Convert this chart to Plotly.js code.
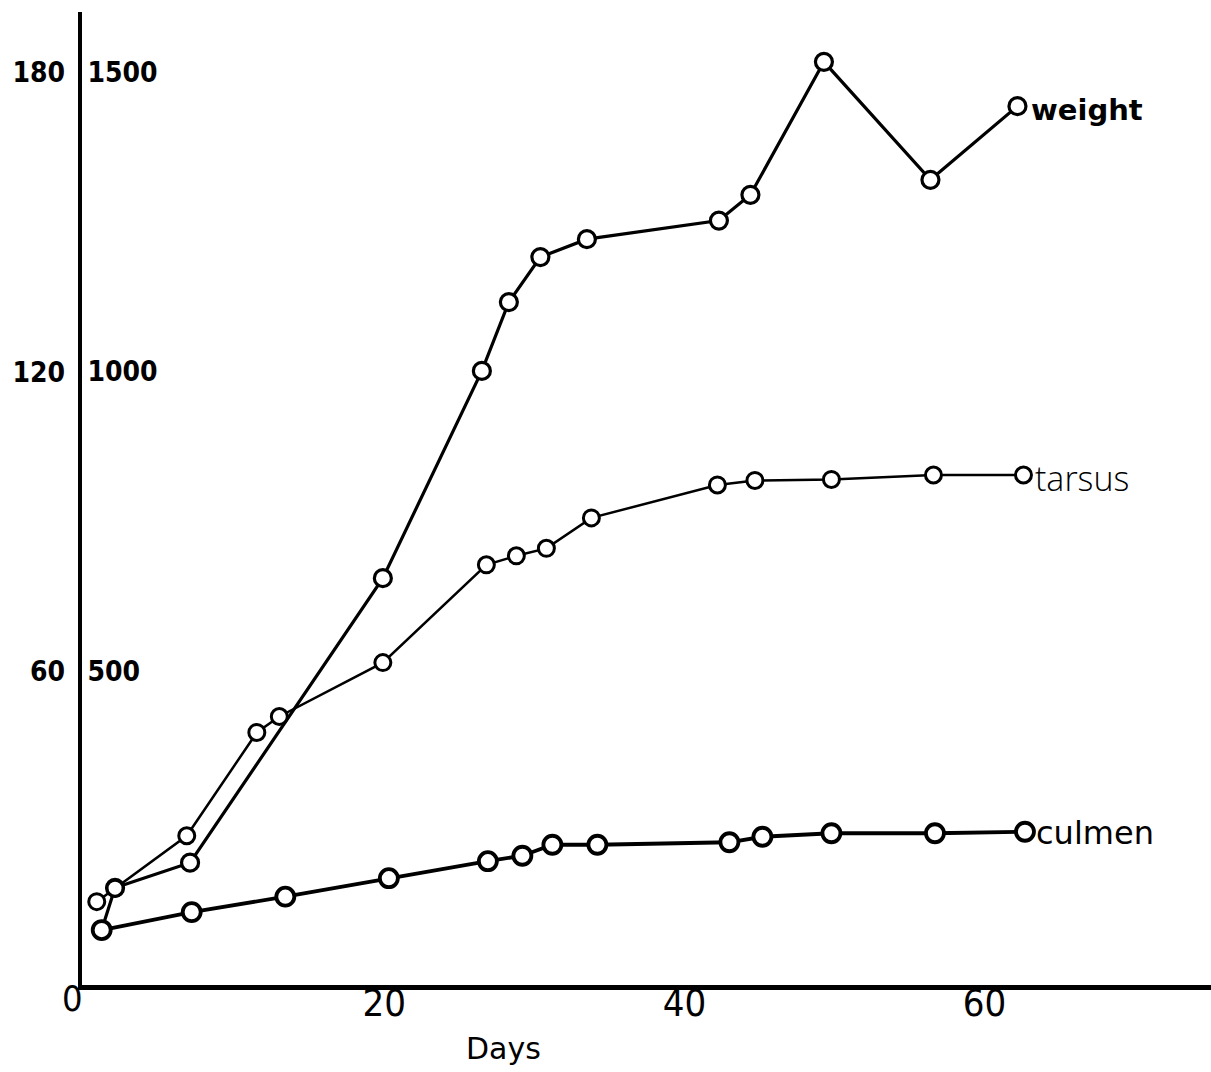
<!DOCTYPE html>
<html>
<head>
<meta charset="utf-8">
<script src="https://cdn.plot.ly/plotly-3.0.1.min.js"></script>
<style>html,body{margin:0;padding:0;background:#fff;}#chart{width:1211px;height:1072px;}</style>
</head>
<body>
<div id="chart"></div>
<script>
// ---- data ----
var weightDays = [1.16, 2.05, 7.05, 19.9, 26.5, 28.3, 30.4, 33.5, 42.3, 44.4, 49.3, 56.4, 62.2];
var weightG    = [68, 138, 180, 655, 1001, 1116, 1191, 1221, 1252, 1295, 1517, 1320, 1443];

var tarsusDays = [0.83, 2.05, 6.83, 11.5, 13.0, 19.9, 26.8, 28.8, 30.8, 33.8, 42.2, 44.7, 49.8, 56.6, 62.6];
var tarsusMm   = [13.8, 16.5, 27.0, 47.7, 50.9, 61.7, 81.3, 83.1, 84.6, 90.7, 97.3, 98.2, 98.4, 99.3, 99.3];

var culmenDays = [1.16, 7.16, 13.4, 20.3, 26.9, 29.2, 31.2, 34.2, 43.0, 45.2, 49.8, 56.7, 62.7];
var culmenMm   = [8.1, 11.7, 14.8, 18.5, 21.9, 23.0, 25.2, 25.2, 25.7, 26.8, 27.5, 27.5, 27.8];

var seriesNames = ['weight', 'tarsus', 'culmen'];
var dayTicks = [20, 40, 60];
var gramTicks = [500, 1000, 1500];
var mmTicks = [60, 120, 180];
var originLabel = '0';
var xTitle = 'Days';

// ---- styling ----
var narrow = 'Liberation Sans Narrow, DejaVu Sans Condensed, DejaVu Sans, sans-serif';
function mk(size, lw) {
  return {symbol: 'circle', size: size, color: '#ffffff', line: {color: '#000', width: lw}};
}

var traces = [
  {x: tarsusDays, y: tarsusMm, yaxis: 'y2', mode: 'lines+markers', name: seriesNames[1],
   line: {color: '#000', width: 2.5}, marker: mk(16, 3), cliponaxis: false},
  {x: culmenDays, y: culmenMm, yaxis: 'y2', mode: 'lines+markers', name: seriesNames[2],
   line: {color: '#000', width: 3.8}, marker: mk(18, 3.8), cliponaxis: false},
  {x: weightDays, y: weightG, yaxis: 'y', mode: 'lines+markers', name: seriesNames[0],
   line: {color: '#000', width: 3.2}, marker: mk(17, 3.2), cliponaxis: false}
];

var nW = weightDays.length - 1, nT = tarsusDays.length - 1, nC = culmenDays.length - 1;

var layout = {
  width: 1211, height: 1072,
  margin: {l: 82, r: 0, t: 12, b: 87},
  paper_bgcolor: '#fff', plot_bgcolor: '#fff',
  showlegend: false,
  xaxis: {
    range: [-0.153, 75.1], showgrid: false, zeroline: false,
    showline: true, linecolor: '#000', linewidth: 5,
    tickmode: 'array', tickvals: dayTicks, ticktext: dayTicks.map(String),
    ticks: '', ticklabelstandoff: -20,
    tickfont: {family: narrow, size: 38, color: '#000'}
  },
  yaxis: {
    range: [-24.2, 1600.2], showgrid: false, zeroline: false,
    showline: true, linecolor: '#000', linewidth: 4,
    tickmode: 'array', tickvals: gramTicks, ticktext: gramTicks.map(String),
    ticks: '', ticklabelposition: 'inside', ticklabelstandoff: 8,
    tickfont: {family: narrow, size: 28, color: '#000', weight: 'bold'}
  },
  yaxis2: {
    range: [-2.906, 192.08], overlaying: 'y', side: 'left',
    showgrid: false, zeroline: false, showline: false,
    tickmode: 'array', tickvals: mmTicks, ticktext: mmTicks.map(String),
    ticks: '', ticklabelstandoff: 16,
    tickfont: {family: narrow, size: 28, color: '#000', weight: 'bold'}
  },
  annotations: [
    {xref: 'x', yref: 'y', x: weightDays[nW], y: weightG[nW], text: seriesNames[0],
     showarrow: false, xanchor: 'left', yanchor: 'middle', xshift: 12, yshift: -4,
     font: {family: 'DejaVu Sans, sans-serif', size: 29, color: '#000', weight: 'bold'}},
    {xref: 'x', yref: 'y2', x: tarsusDays[nT], y: tarsusMm[nT], text: seriesNames[1],
     showarrow: false, xanchor: 'left', yanchor: 'middle', xshift: 10, yshift: -3,
     font: {family: 'Open Sans, sans-serif', size: 34, color: '#000', weight: 300}},
    {xref: 'x', yref: 'y2', x: culmenDays[nC], y: culmenMm[nC], text: seriesNames[2],
     showarrow: false, xanchor: 'left', yanchor: 'middle', xshift: 9, yshift: -1,
     font: {family: 'DejaVu Sans, sans-serif', size: 32, color: '#000'}},
    {xref: 'paper', yref: 'paper', x: (72 - 82) / 1129, y: (985 - 998) / 973, text: originLabel,
     showarrow: false, xanchor: 'center', yanchor: 'middle',
     font: {family: narrow, size: 36, color: '#000'}},
    {xref: 'paper', yref: 'paper', x: (503 - 82) / 1129, y: (985 - 1048) / 973, text: xTitle,
     showarrow: false, xanchor: 'center', yanchor: 'middle',
     font: {family: 'DejaVu Sans, sans-serif', size: 30, color: '#000'}}
  ]
};

Plotly.newPlot('chart', traces, layout, {staticPlot: true, displayModeBar: false});
</script>
</body>
</html>
